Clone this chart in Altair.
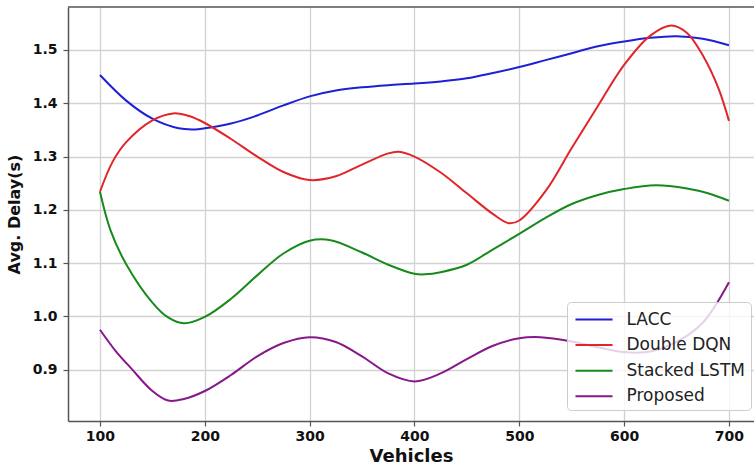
import altair as alt
import pandas as pd

# Average delay per method versus number of vehicles
lacc_x = [100, 125, 150, 175, 190, 200, 225, 250, 275, 300, 325, 350, 375, 400,
          425, 450, 475, 500, 525, 550, 575, 600, 625, 650, 675, 700]
lacc_y = [1.453, 1.405, 1.371, 1.353, 1.351, 1.353, 1.362, 1.377, 1.396, 1.413,
          1.424, 1.430, 1.434, 1.437, 1.441, 1.447, 1.457, 1.468, 1.481, 1.494,
          1.507, 1.516, 1.523, 1.526, 1.521, 1.509]

ddqn_x = [100, 112, 125, 150, 170, 185, 200, 225, 250, 275, 300, 325, 350, 375,
          385, 400, 425, 450, 475, 490, 500, 525, 550, 575, 600, 625, 645, 660,
          675, 690, 700]
ddqn_y = [1.234, 1.290, 1.327, 1.368, 1.381, 1.376, 1.363, 1.333, 1.300, 1.271,
          1.256, 1.263, 1.285, 1.306, 1.309, 1.300, 1.270, 1.231, 1.192, 1.175,
          1.180, 1.235, 1.316, 1.395, 1.472, 1.527, 1.546, 1.532, 1.490, 1.428,
          1.367]

lstm_x = [100, 110, 125, 150, 165, 180, 200, 225, 250, 275, 300, 320, 350, 375,
          400, 410, 425, 450, 475, 500, 525, 550, 575, 600, 630, 660, 680, 700]
lstm_y = [1.234, 1.162, 1.098, 1.026, 0.998, 0.987, 0.999, 1.033, 1.077, 1.118,
          1.142, 1.143, 1.120, 1.097, 1.080, 1.079, 1.083, 1.097, 1.126, 1.155,
          1.185, 1.211, 1.228, 1.239, 1.246, 1.240, 1.231, 1.217]

prop_x = [100, 115, 130, 150, 165, 180, 200, 225, 250, 275, 300, 325, 350, 375,
          400, 425, 450, 475, 500, 520, 550, 575, 600, 625, 650, 675, 700]
prop_y = [0.975, 0.935, 0.902, 0.860, 0.842, 0.845, 0.860, 0.890, 0.925, 0.950,
          0.961, 0.952, 0.925, 0.893, 0.878, 0.893, 0.920, 0.945, 0.959, 0.961,
          0.953, 0.942, 0.933, 0.934, 0.952, 0.988, 1.064]

series_names = ["LACC", "Double DQN", "Stacked LSTM", "Proposed"]
series_colors = ["#1f1fd6", "#e0262a", "#178a1c", "#87188a"]

x_ticks = [100, 200, 300, 400, 500, 600, 700]
y_ticks = [0.9, 1.0, 1.1, 1.2, 1.3, 1.4, 1.5]

rows = []
for name, xs, ys in zip(series_names,
                        [lacc_x, ddqn_x, lstm_x, prop_x],
                        [lacc_y, ddqn_y, lstm_y, prop_y]):
    for xv, yv in zip(xs, ys):
        rows.append({"series": name, "vehicles": xv, "delay": yv})
df = pd.DataFrame(rows)

FONT = "DejaVu Sans"

lines = alt.Chart(df).mark_line(strokeWidth=2, interpolate="catmull-rom", clip=True).encode(
    x=alt.X(
        "vehicles:Q",
        scale=alt.Scale(domain=[69.5, 723.9], nice=False, zero=False),
        axis=alt.Axis(values=x_ticks, format="d", title="Vehicles",
                      titleFontSize=18, titlePadding=4, labelPadding=3),
    ),
    y=alt.Y(
        "delay:Q",
        scale=alt.Scale(domain=[0.8037, 1.5807], nice=False, zero=False),
        axis=alt.Axis(values=y_ticks, format=".1f", title="Avg. Delay(s)",
                      titleFontSize=16, titlePadding=10, labelPadding=6),
    ),
    color=alt.Color(
        "series:N",
        scale=alt.Scale(domain=series_names, range=series_colors),
        legend=alt.Legend(title=None),
    ),
)

# top frame line of the plot area
top_edge = alt.Chart(alt.Data(values=[{}])).mark_rule(
    color="#555555", strokeWidth=1.5
).encode(y=alt.value(0), x=alt.value(0), x2=alt.value(686))

chart = alt.layer(lines, top_edge).properties(
    width=686,
    height=414,
    padding={"left": 68, "top": 7, "right": 0, "bottom": 47},
    autosize=alt.AutoSizeParams(type="none"),
    background="white",
).configure_view(
    stroke=None
).configure_axis(
    labelFont=FONT,
    labelFontSize=14,
    labelFontWeight="bold",
    labelColor="#111111",
    titleFont=FONT,
    titleFontWeight="bold",
    titleColor="#111111",
    gridColor="#d2d2d2",
    gridWidth=1.3,
    domainColor="#555555",
    domainWidth=1.5,
    tickColor="#555555",
    tickSize=5,
    tickWidth=1.2,
).configure_legend(
    orient="none",
    legendX=499,
    legendY=295,
    fillColor="rgba(255,255,255,0.8)",
    strokeColor="#cccccc",
    cornerRadius=4,
    padding=5.5,
    symbolType="M-0.82,0H2.55",
    symbolSize=484,
    symbolStrokeWidth=2,
    labelFont=FONT,
    labelFontSize=17,
    labelColor="#222222",
    labelOffset=30,
    rowPadding=5.6,
)

chart.save("out.html", embed_options={"renderer": "svg", "actions": False})
